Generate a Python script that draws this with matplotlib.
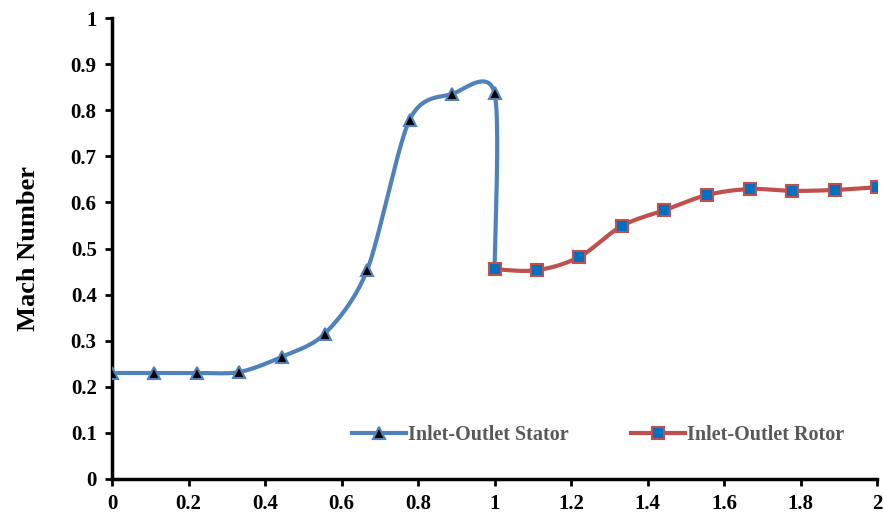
import numpy as np
import matplotlib
matplotlib.use("Agg")
import matplotlib.pyplot as plt

# ---- data ----
stator_x = [0.0, 0.111, 0.222, 0.333, 0.444, 0.556, 0.667, 0.778, 0.889, 1.0, 1.0]
stator_y = [0.230, 0.230, 0.230, 0.232, 0.265, 0.315, 0.453, 0.779, 0.835, 0.837, 0.455]
rotor_x = [1.0, 1.111, 1.222, 1.333, 1.444, 1.556, 1.667, 1.778, 1.889, 2.0]
rotor_y = [0.455, 0.453, 0.482, 0.549, 0.583, 0.616, 0.629, 0.625, 0.627, 0.633]
x_ticks = [0, 0.2, 0.4, 0.6, 0.8, 1, 1.2, 1.4, 1.6, 1.8, 2]
x_tick_labels = ["0", "0.2", "0.4", "0.6", "0.8", "1", "1.2", "1.4", "1.6", "1.8", "2"]
y_ticks = [0, 0.1, 0.2, 0.3, 0.4, 0.5, 0.6, 0.7, 0.8, 0.9, 1]
y_tick_labels = ["0", "0.1", "0.2", "0.3", "0.4", "0.5", "0.6", "0.7", "0.8", "0.9", "1"]
y_label = "Mach Number"
stator_name = "Inlet-Outlet Stator"
rotor_name = "Inlet-Outlet Rotor"


def excel_smooth(xs, ys, n=40, k=6.0):
    """Cubic Bezier smoothing similar to Excel's smoothed line."""
    P = np.column_stack([xs, ys]).astype(float)
    m = len(P)
    out = [P[0]]
    t = np.linspace(0, 1, n)[1:, None]
    for i in range(m - 1):
        p0 = P[i]
        p3 = P[i + 1]
        prev = P[i - 1] if i > 0 else P[i]
        nxt = P[i + 2] if i + 2 < m else P[i + 1]
        c1 = p0 + (p3 - prev) / k
        c2 = p3 - (nxt - p0) / k
        seg = ((1 - t) ** 3) * p0 + 3 * ((1 - t) ** 2) * t * c1 + 3 * (1 - t) * t ** 2 * c2 + t ** 3 * p3
        out.extend(seg)
    out = np.array(out)
    return out[:, 0], out[:, 1]


plt.rcParams['font.family'] = ['Liberation Serif', 'DejaVu Serif']
plt.rcParams['font.weight'] = 'bold'

fig = plt.figure(figsize=(8.84, 5.15), dpi=100)
ax = fig.add_axes([112 / 884, 1 - 479 / 515, (877 - 112) / 884, (479 - 18) / 515])

blue = "#4F81BD"
red = "#C0504D"
sq_fill = "#0070C0"

sx, sy = excel_smooth(stator_x, stator_y, k=7.0)
rx, ry = excel_smooth(rotor_x, rotor_y)

ax.plot(sx, sy, color=blue, lw=3, zorder=2, solid_capstyle='round')
ax.plot(stator_x[:-1], stator_y[:-1], ls='none', marker='^', ms=9,
        mfc='black', mec=blue, mew=1.5, zorder=3)
ax.plot(rx, ry, color=red, lw=3, zorder=4, solid_capstyle='round')
ax.plot(rotor_x, rotor_y, ls='none', marker='s', ms=9,
        mfc=sq_fill, mec=red, mew=1.5, zorder=5)

# legend proxies
h1, = ax.plot([], [], color=blue, lw=3, marker='^', ms=9, mfc='black', mec=blue, mew=1.5)
h2, = ax.plot([], [], color=red, lw=3, marker='s', ms=9, mfc=sq_fill, mec=red, mew=1.5)
leg = fig.legend([h1, h2], [stator_name, rotor_name], loc='center',
                 bbox_to_anchor=(598 / 884, 1 - 435 / 515), ncol=2, frameon=False,
                 handlelength=2.7, handletextpad=0.1, columnspacing=3.1,
                 prop={'family': 'Liberation Serif', 'weight': 'bold', 'size': 14.5})
for t in leg.get_texts():
    t.set_color("#595959")
    t.set_fontweight('bold')

ax.set_xlim(0, 2)
ax.set_ylim(0, 1)
ax.set_xticks(x_ticks)
ax.set_xticklabels(x_tick_labels)
ax.set_yticks(y_ticks)
ax.set_yticklabels(y_tick_labels)
for lab in ax.get_xticklabels() + ax.get_yticklabels():
    lab.set_fontweight('bold')
    lab.set_fontsize(15)
ax.tick_params(axis='both', direction='out', length=5, width=2, color='black', pad=6)
for s in ['top', 'right']:
    ax.spines[s].set_visible(False)
for s in ['left', 'bottom']:
    ax.spines[s].set_linewidth(2.5)
ax.set_ylabel(y_label, fontsize=19, fontweight='bold', labelpad=22)
ax.patch.set_alpha(0)

fig.savefig("out.png", dpi=100)
